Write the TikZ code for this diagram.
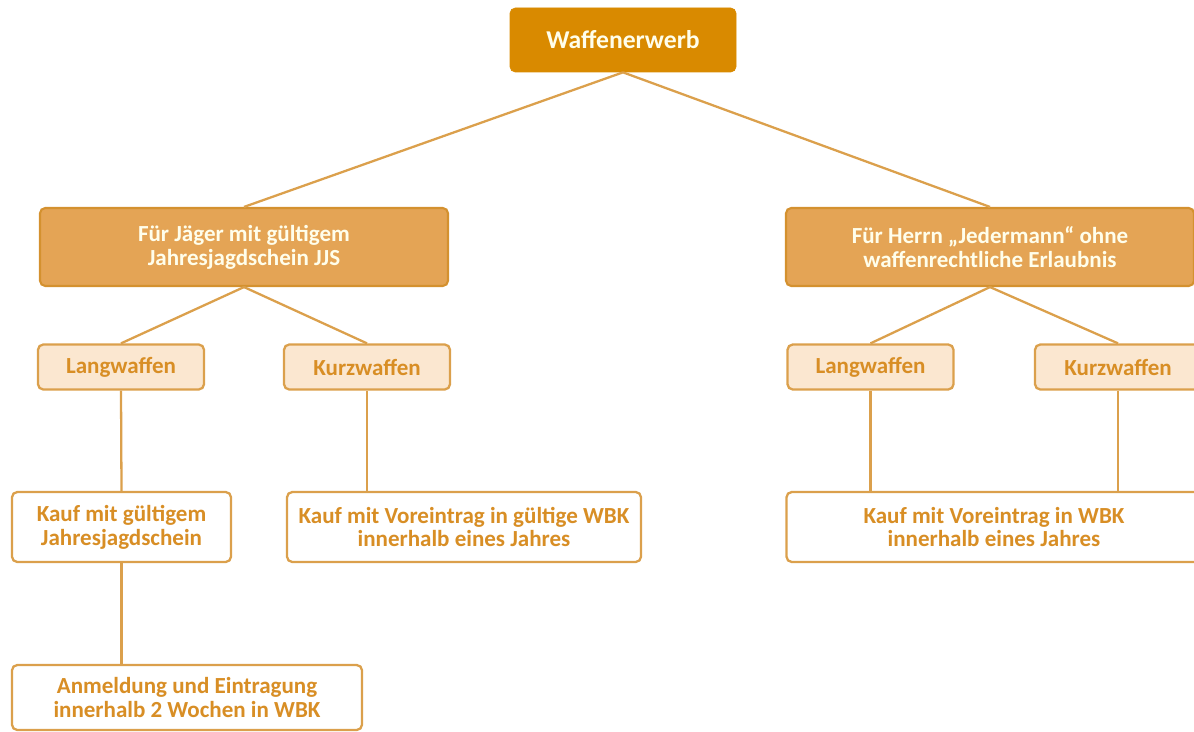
\documentclass[tikz,border=0pt]{standalone}
\usepackage{fontspec}
\setmainfont{Carlito}
\usetikzlibrary{positioning,calc}

\definecolor{wTop}{HTML}{D98A00}
\definecolor{wMid}{HTML}{E4A455}
\definecolor{wMidLine}{HTML}{D4912F}
\definecolor{wLow}{HTML}{FBE7D0}
\definecolor{wLine}{HTML}{DBA04C}
\definecolor{wText}{HTML}{D88E25}

\begin{document}
\begin{tikzpicture}[
  font=\bfseries\fontsize{13.1}{13.6}\selectfont,
  topbox/.style={rectangle, rounded corners=3pt, fill=wTop, draw=wTop,
                 text=white!92!yellow, minimum width=45.2mm, minimum height=12.8mm,
                 font=\bfseries\fontsize{14.6}{16}\selectfont},
  groupbox/.style={rectangle, rounded corners=3pt, fill=wMid, draw=wMidLine,
                   line width=1.2pt, text=white!92!yellow, align=center,
                   minimum width=81.6mm, minimum height=15.6mm},
  kindbox/.style={rectangle, rounded corners=3pt, fill=wLow, draw=wLine,
                  line width=1.3pt, text=wText, minimum width=33.2mm,
                  minimum height=9mm},
  stepbox/.style={rectangle, rounded corners=3pt, fill=white, draw=wLine,
                  line width=1.3pt, text=wText, align=center,
                  minimum height=14mm},
  link/.style={wLine, line width=1.3pt}
]
\useasboundingbox (0,0) rectangle (23.88,-14.64);

% ---------- Top ----------
\node[topbox] (WE) at (12.46,-0.80) {Waffenerwerb};

% ---------- Groups ----------
\node[groupbox] (JJS) at (4.88,-4.94)
  {Für Jäger mit gültigem\\Jahresjagdschein JJS};
\node[groupbox] (JED) at (19.80,-4.94)
  {Für Herrn „Jedermann“ ohne\\waffenrechtliche Erlaubnis};

% ---------- Weapon kinds ----------
\node[kindbox] (LangJ) at (2.42,-7.34)  {Langwaffen};
\node[kindbox] (KurzJ) at (7.34,-7.34)  {Kurzwaffen};
\node[kindbox] (LangE) at (17.41,-7.34) {Langwaffen};
\node[kindbox] (KurzE) at (22.36,-7.34) {Kurzwaffen};

% ---------- Purchase ----------
\node[stepbox, minimum width=43.8mm] (KaufJL) at (2.43,-10.54)
  {Kauf mit gültigem\\Jahresjagdschein};
\node[stepbox, minimum width=70.8mm] (KaufJK) at (9.28,-10.54)
  {Kauf mit Voreintrag in gültige WBK\\innerhalb eines Jahres};
\node[stepbox, minimum width=83mm] (KaufE) at (19.88,-10.54)
  {Kauf mit Voreintrag in WBK\\innerhalb eines Jahres};
\node[stepbox, minimum width=70mm, minimum height=13mm] (Anm) at (3.74,-13.95)
  {Anmeldung und Eintragung\\innerhalb 2 Wochen in WBK};

% ---------- Connectors ----------
\draw[link] (WE.south) -- (JJS.north);
\draw[link] (WE.south) -- (JED.north);
\draw[link] (JJS.south) -- (LangJ.north);
\draw[link] (JJS.south) -- (KurzJ.north);
\draw[link] (JED.south) -- (LangE.north);
\draw[link] (JED.south) -- (KurzE.north);
\draw[link] (LangJ.south) -- (KaufJL.north);
\draw[link] (KurzJ.south) -- (KurzJ.south |- KaufJK.north);
\draw[link] (LangE.south) -- (LangE.south |- KaufE.north);
\draw[link] (KurzE.south) -- (KurzE.south |- KaufE.north);
\draw[link] (KaufJL.south) -- (KaufJL.south |- Anm.north);

\end{tikzpicture}
\end{document}
